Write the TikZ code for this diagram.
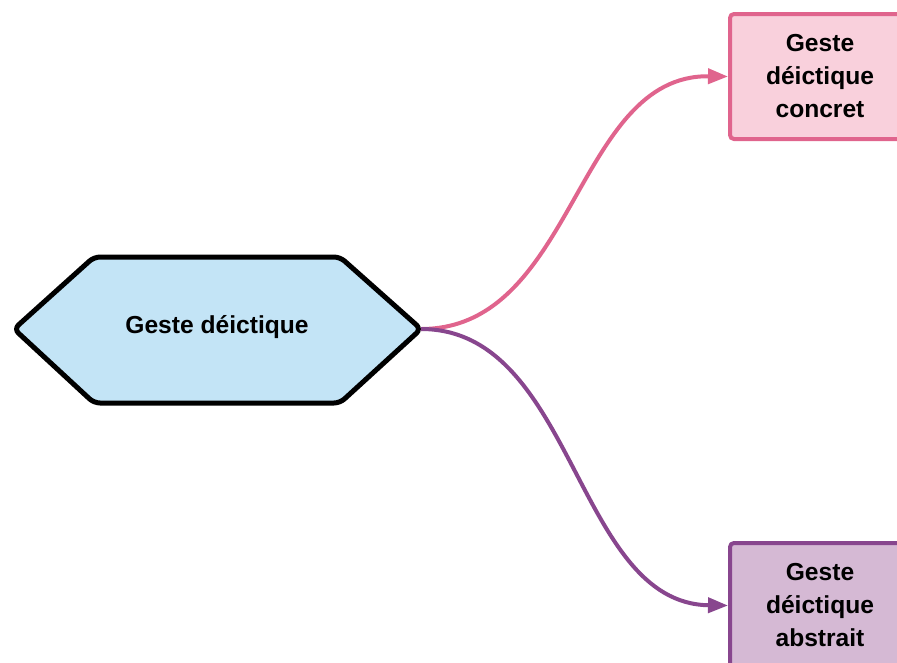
\documentclass[tikz,border=0pt]{standalone}
\usepackage{fontspec}
\setmainfont{Liberation Sans}
\usetikzlibrary{arrows.meta}
\definecolor{hexfill}{HTML}{C3E4F6}
\definecolor{pinkfill}{HTML}{F9D0DC}
\definecolor{pinkline}{HTML}{E0648D}
\definecolor{purpfill}{HTML}{D5B9D4}
\definecolor{purpline}{HTML}{88468E}
\tikzset{
  label text/.style={font=\bfseries\fontsize{24.6}{33}\selectfont, align=center},
  leafbox/.style={rectangle, rounded corners=4pt, line width=4pt,
    minimum width=180pt, minimum height=125pt, text width=170pt,
    label text, inner sep=0pt},
  branch/.style={line width=4pt,
    -{Triangle[length=20pt,width=15pt]}},
}
\begin{document}
\begin{tikzpicture}[x=1pt,y=-1pt]
  \useasboundingbox (0,0) rectangle (897,662);
  % central hexagon
  \draw[line width=5pt, fill=hexfill, rounded corners=6pt, line join=round]
    (14,329) -- (94,257) -- (340,257) -- (421,329) -- (340,403) -- (94,403) -- cycle;
  \node[label text] (root) at (217,327) {Geste déictique};
  \coordinate (rootR) at (421,329);
  % leaves
  \node[leafbox, draw=pinkline, fill=pinkfill, anchor=north west] (concret) at (728,12)
    {Geste\\déictique\\concret};
  \node[leafbox, draw=purpline, fill=purpfill, anchor=north west] (abstrait) at (728,541)
    {Geste\\déictique\\abstrait};
  % connectors
  \draw[branch, draw=pinkline, color=pinkline]
    (rootR) .. controls (575,329) and (575,74.5) .. (concret.west);
  \draw[branch, draw=purpline, color=purpline]
    (rootR) .. controls (575,329) and (575,603.5) .. (abstrait.west);
\end{tikzpicture}
\end{document}
